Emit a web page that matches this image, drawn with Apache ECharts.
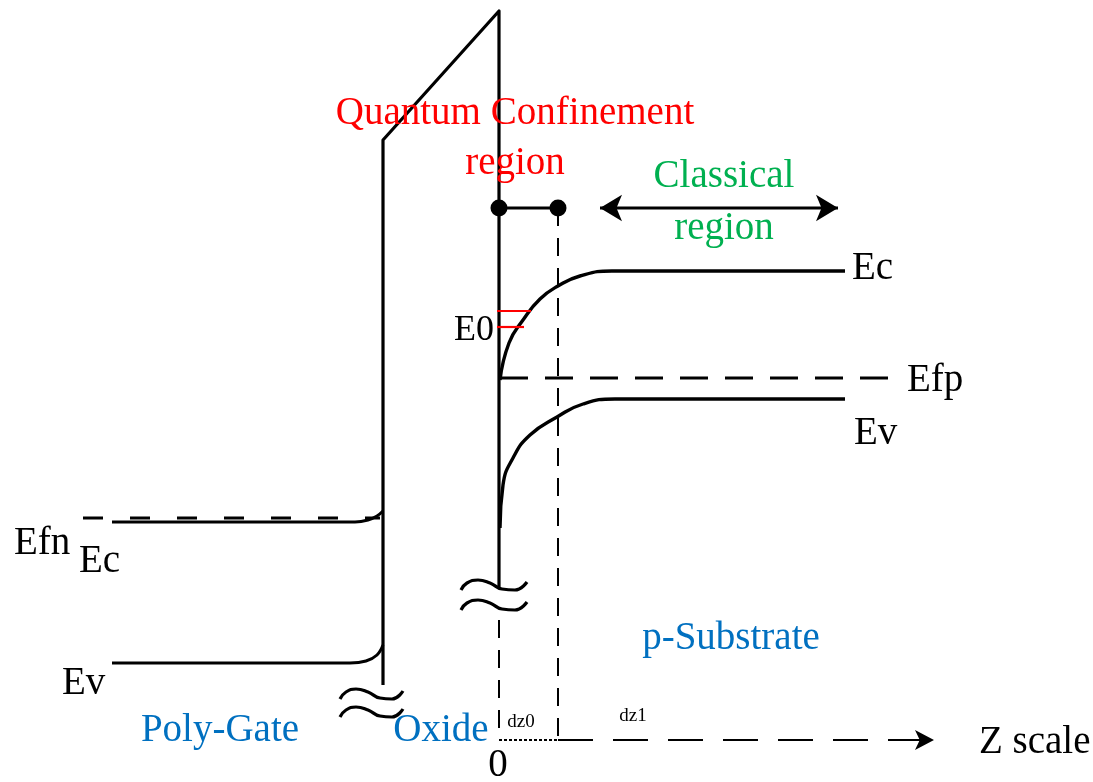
<!DOCTYPE html>
<html>
<head>
<meta charset="utf-8">
<script src="https://cdn.jsdelivr.net/npm/echarts@6/dist/echarts.min.js"></script>
<style>html,body{margin:0;padding:0;background:#fff}#c{width:1093px;height:782px}</style>
</head>
<body>
<div id="c"></div>
<script>
// Diagram coordinates: x = position along Z (left to right), y = energy drawing level (downwards)
var oxideOutline = [[383, 685], [383, 140], [499, 11], [499, 588]];
var gateEc = [[112, 522], [355, 522], [368, 520], [377, 516], [383, 511]];
var gateEv = [[112, 663], [350, 663], [366, 661], [377, 655], [383, 645]];
var gateEfn = [[83, 518], [380, 518]];
var subEc = [[500, 380], [509, 343], [523, 320], [540, 299], [558, 286], [580, 276], [612, 271], [845, 271]];
var subEv = [[500, 528], [503, 485], [513, 458], [530, 435], [557, 417], [583, 404], [615, 399], [845, 399]];
var subEfp = [[500, 378], [890, 378]];
var e0Levels = [[[497, 311], [531, 311]], [[497, 327], [524, 327]]];
var qcBar = [[499, 208], [558, 208]];
var dz1Guide = [[558, 208], [558, 740]];
var zeroGuide = [[499, 620], [499, 740]];
var zAxisDotted = [[499, 740], [558, 740]];
var zAxisDashed = [[558, 740], [928, 740]];
var zArrowHead = [[934, 740]];
var classicalArrow = [[600, 208], [838, 208]];
var classicalHeads = [[600, 208], [838, 208]];
var breakGate = [
  [[340, 699], [346, 692], [356, 689], [368, 692], [380, 698], [392, 699], [403, 691]],
  [[340, 717], [346, 710], [356, 707], [368, 710], [380, 716], [392, 717], [403, 709]]
];
var breakSub = [
  [[461, 590], [467, 583], [478, 580], [490, 583], [502, 589], [515, 590], [527, 582]],
  [[461, 610], [467, 603], [478, 600], [490, 603], [502, 609], [515, 610], [527, 602]]
];

var redTexts = ['Quantum Confinement', 'region'];
var redAnchors = [[515, 114], [515, 164]];
var greenTexts = ['Classical', 'region'];
var greenAnchors = [[724, 177], [724, 229]];
var blueTexts = ['Poly-Gate', 'Oxide', 'p-Substrate'];
var blueAnchors = [[220, 731], [441, 731], [731, 639]];
var blackTextsLeft = ['Ec', 'Efp', 'Ev', 'Efn', 'Ec', 'Ev', 'Z scale'];
var blackAnchorsLeft = [[852, 269], [907, 381], [854, 434], [14, 544], [79, 562], [62, 684], [979, 743]];
var e0Text = ['E0'];
var e0Anchor = [[494, 331]];
var smallTexts = ['dz0', 'dz1'];
var smallAnchors = [[521, 722], [633, 716]];
var zeroText = ['0'];
var zeroAnchor = [[498, 766]];

var FONT = 'Liberation Serif';

function lineSeries(pts, opt) {
  opt = opt || {};
  return {
    type: 'line', data: pts, showSymbol: false, symbol: 'none', silent: true,
    smooth: opt.smooth || false,
    lineStyle: {color: opt.color || '#000', width: opt.width || 3, type: opt.type || 'solid', dashOffset: opt.offset || 0, cap: 'butt', join: 'round', opacity: 1},
    z: opt.z || 2
  };
}
function textSeries(texts, anchors, color, size, align) {
  return {
    type: 'scatter', symbolSize: 0, silent: true, z: 5,
    itemStyle: {opacity: 1},
    data: texts.map(function (t, i) { return {name: t, value: anchors[i]}; }),
    label: {show: true, position: 'inside', formatter: '{b}', color: color, opacity: 1, fontFamily: FONT, fontSize: size, align: align, verticalAlign: 'middle'}
  };
}

var series = [];
series.push(lineSeries(oxideOutline, {width: 3.2}));
series.push(lineSeries(gateEc, {smooth: 0.4, width: 3}));
series.push(lineSeries(gateEv, {smooth: 0.4, width: 3}));
series.push(lineSeries(gateEfn, {type: [20, 27], width: 3}));
series.push(lineSeries(subEc, {smooth: 0.5, width: 3.4}));
series.push(lineSeries(subEv, {smooth: 0.5, width: 3.4}));
series.push(lineSeries(subEfp, {type: [28, 17], width: 3}));
e0Levels.forEach(function (l) { series.push(lineSeries(l, {color: '#ff0000', width: 2.2})); });
series.push(lineSeries(qcBar, {width: 3}));
series.push(lineSeries(dz1Guide, {type: [18, 12], width: 2}));
series.push(lineSeries(zeroGuide, {type: [18, 12], width: 2}));
series.push(lineSeries(zAxisDotted, {type: [3, 2], width: 2}));
series.push(lineSeries(zAxisDashed, {type: [35, 20], width: 2}));
series.push(lineSeries(classicalArrow, {width: 3}));
breakGate.concat(breakSub).forEach(function (b) { series.push(lineSeries(b, {smooth: 0.5, width: 3.2})); });
series.push({type: 'scatter', silent: true, symbol: 'circle', symbolSize: 17, itemStyle: {color: '#000', opacity: 1}, data: qcBar, z: 4});
series.push({type: 'scatter', silent: true, symbol: 'arrow', symbolSize: [15, 19], symbolRotate: -90, itemStyle: {color: '#000', opacity: 1}, data: zArrowHead, z: 4});
series.push({type: 'scatter', silent: true, symbol: 'arrow', symbolSize: [20, 22],
  itemStyle: {color: '#000', opacity: 1}, z: 4,
  data: [{value: classicalHeads[0], symbolRotate: 90}, {value: classicalHeads[1], symbolRotate: -90}]});

series.push(textSeries(redTexts, redAnchors, '#ff0000', 39, 'center'));
series.push(textSeries(greenTexts, greenAnchors, '#00b050', 39, 'center'));
series.push(textSeries(blueTexts, blueAnchors, '#0070c0', 39, 'center'));
series.push(textSeries(blackTextsLeft, blackAnchorsLeft, '#000', 39, 'left'));
series.push(textSeries(e0Text, e0Anchor, '#000', 36, 'right'));
series.push(textSeries(smallTexts, smallAnchors, '#000', 19, 'center'));
series.push(textSeries(zeroText, zeroAnchor, '#000', 39, 'center'));

var chart = echarts.init(document.getElementById('c'));
chart.setOption({
  animation: false,
  backgroundColor: '#fff',
  grid: {left: 0, right: 0, top: 0, bottom: 0},
  xAxis: {type: 'value', min: 0, max: 1093, show: false},
  yAxis: {type: 'value', min: 0, max: 782, inverse: true, show: false},
  series: series
});
</script>
</body>
</html>
